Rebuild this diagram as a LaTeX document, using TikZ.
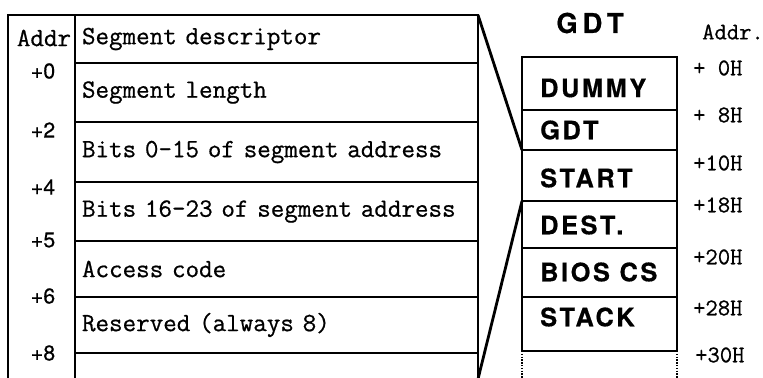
\documentclass[tikz,border=0pt]{standalone}
\usepackage{fontspec}
\newfontfamily\tablefont[FakeBold=0.7]{Latin Modern Mono}
\newfontfamily\gdtfont[LetterSpace=10,FakeBold=0.5]{TeX Gyre Heros}
\newfontfamily\offfont[FakeBold=0.4]{TeX Gyre Heros}
\usetikzlibrary{positioning}

\begin{document}
\begin{tikzpicture}[
  x=1bp, y=-1bp,
  font=\tablefont\fontsize{26.4}{29}\selectfont,
  frame/.style={draw=black, line width=2.8bp},
  segrow/.style={frame, rectangle, outer sep=0pt, inner xsep=7bp,
    text width=389bp, align=left, minimum width=403bp, anchor=north west},
  gdtrow/.style={frame, rectangle, outer sep=0pt, inner sep=0pt,
    minimum width=155bp, anchor=north west},
  gdtlabel/.style={anchor=west, inner sep=0pt,
    font=\gdtfont\bfseries\fontsize{25.5}{28}\selectfont},
  offset/.style={inner sep=0pt, font=\offfont\fontsize{21.5}{24}\selectfont},
  hexoff/.style={anchor=west, inner sep=0pt, font=\tablefont\fontsize{24}{26}\selectfont},
  dotline/.style={draw=black, line width=2.8bp, dash pattern=on 1.4bp off 1.4bp}
]
\useasboundingbox (0,0) rectangle (763,377);
\clip (0,0) rectangle (763,377);

% segment descriptor layout
\node[frame, outer sep=0pt, minimum width=67bp, minimum height=400bp,
  anchor=north west] (addrcol) at (8,15) {};
\node[segrow, minimum height=48bp] (desc) at (75,15) {Segment descriptor};
\node[segrow, minimum height=59bp, below=0pt of desc] (len) {Segment length};
\node[segrow, minimum height=60bp, below=0pt of len] (lowaddr) {Bits 0-15 of segment address};
\node[segrow, minimum height=59bp, below=0pt of lowaddr] (highaddr) {Bits 16-23 of segment address};
\node[segrow, minimum height=56bp, below=0pt of highaddr] (access) {Access code};
\node[segrow, minimum height=56bp, below=0pt of access] (reserved) {Reserved (always 8)};
\node[segrow, minimum height=26bp, below=0pt of reserved] (nextdesc) {};

\node[inner sep=0pt] (addrhead) at (44,38) {Addr};
\node[offset] (off0) at (43,71) {+0};
\node[offset] (off2) at (43,130) {+2};
\node[offset] (off4) at (43,187) {+4};
\node[offset] (off5) at (43,240) {+5};
\node[offset] (off6) at (43,296) {+6};
\node[offset] (off8) at (43,353) {+8};

% GDT
\node[inner sep=0pt, font=\gdtfont\bfseries\addfontfeature{LetterSpace=18}\fontsize{27.5}{30}\selectfont]
  (gdttitle) at (590,23) {GDT};
\node[gdtrow, minimum height=53bp] (dummy) at (522,57) {};
\node[gdtrow, minimum height=40bp, below=0pt of dummy] (gdt) {};
\node[gdtrow, minimum height=51bp, below=0pt of gdt] (start) {};
\node[gdtrow, minimum height=47bp, below=0pt of start] (dest) {};
\node[gdtrow, minimum height=49bp, below=0pt of dest] (bioscs) {};
\node[gdtrow, minimum height=54bp, below=0pt of bioscs] (stack) {};

\node[gdtlabel] (dummytxt) at (540,88) {DUMMY};
\node[gdtlabel] (gdttxt) at (540,130) {GDT};
\node[gdtlabel] (starttxt) at (540,178) {START};
\node[gdtlabel] (desttxt) at (540,225) {DEST.};
\node[gdtlabel] (bioscstxt) at (540,272) {BIOS CS};
\node[gdtlabel] (stacktxt) at (540,317) {STACK};

\node[hexoff] (addrtitle) at (702,32) {Addr.};
\node[hexoff] (hex00) at (693,68) {+ 0H};
\node[hexoff] (hex08) at (693,115) {+ 8H};
\node[hexoff] (hex10) at (693,163) {+10H};
\node[hexoff] (hex18) at (693,205) {+18H};
\node[hexoff] (hex20) at (693,257) {+20H};
\node[hexoff] (hex28) at (693,308) {+28H};
\node[hexoff] (hex30) at (695,355) {+30H};

% expansion lines and open end of table
\draw[frame] (desc.north east) -- (start.north west);
\draw[frame] (nextdesc.south east) -- (start.south west);
\coordinate[below=30bp of stack.south west] (gdtleftend);
\coordinate[below=30bp of stack.south east] (gdtrightend);
\draw[dotline] (stack.south west) -- (gdtleftend);
\draw[dotline] (stack.south east) -- (gdtrightend);
\end{tikzpicture}
\end{document}
